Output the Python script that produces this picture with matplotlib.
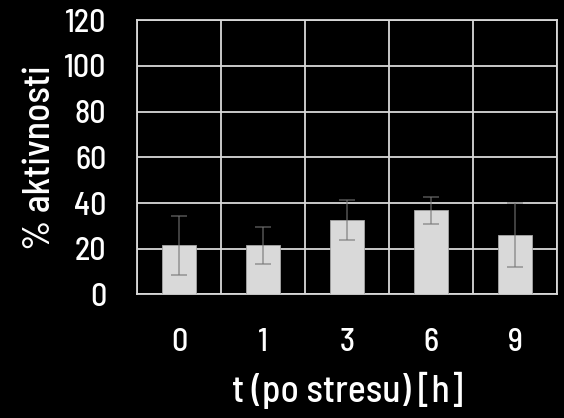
import matplotlib
matplotlib.use("Agg")
import matplotlib.pyplot as plt
import numpy as np

categories = ['0', '1', '3', '6', '9']
values = [21.5, 21.5, 32.5, 36.8, 25.8]
errors = [13.0, 8.0, 8.7, 6.0, 14.0]

# condensed DIN-like face, falling back to narrower faces if missing
plt.rcParams['font.family'] = ['Barlow Semi Condensed', 'Roboto Condensed', 'Roboto', 'DejaVu Sans']

fig = plt.figure(figsize=(5.64, 4.18), dpi=100, facecolor='black')
ax = fig.add_axes([0.243, 0.2955, 0.7445, 0.6565])
ax.set_facecolor('black')

x = np.arange(len(categories))
ax.bar(x, values, width=0.4, color='#d9d9d9', edgecolor='#a6a6a6', linewidth=0.6, zorder=3)
ax.errorbar(x, values, yerr=errors, fmt='none', ecolor=(0.46, 0.46, 0.46, 0.65),
            elinewidth=1.2, capsize=6, capthick=1.2, zorder=4)

ax.set_xlim(-0.5, 4.5)
ax.set_ylim(0, 120)
ax.set_yticks(range(0, 121, 20))
ax.set_xticks(x)
ax.set_xticklabels(categories)
ax.set_xticks(np.arange(-0.5, 4.6, 1), minor=True)
ax.grid(True, axis='y', which='major', color='#d9d9d9', linewidth=1.3, zorder=1)
ax.grid(True, axis='x', which='minor', color='#d9d9d9', linewidth=1.3, zorder=1)
ax.tick_params(axis='both', which='both', length=0, colors='white', labelsize=23)
ax.tick_params(axis='y', pad=22)
ax.tick_params(axis='x', pad=24)
for lab in ax.get_xticklabels() + ax.get_yticklabels():
    lab.set_fontweight('medium')
for s in ax.spines.values():
    s.set_color('#d9d9d9')
    s.set_linewidth(1.3)

ax.set_ylabel('% aktivnosti', color='white', fontsize=27, fontweight='medium', labelpad=5)
ax.set_xlabel('t (po stresu) [h]', color='white', fontsize=27, fontweight='medium', labelpad=11)

fig.savefig('out.png', dpi=100, facecolor='black')
